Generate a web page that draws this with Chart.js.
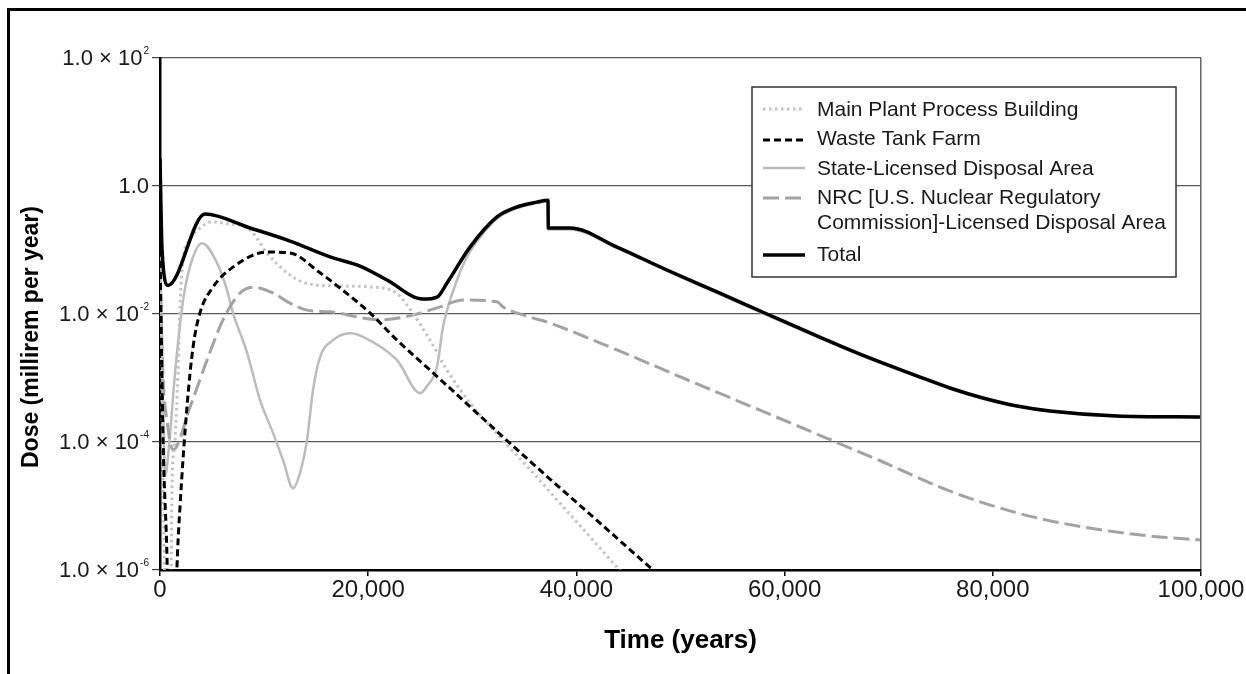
<!DOCTYPE html>
<html>
<head>
<meta charset="utf-8">
<script src="https://cdn.jsdelivr.net/npm/chart.js@4.4.1/dist/chart.umd.min.js"></script>
<style>
html,body{margin:0;padding:0;background:#fff;}
#wrap{position:relative;width:1246px;height:674px;}
</style>
</head>
<body>
<div id="wrap"><canvas id="c" width="1246" height="674"></canvas></div>
<script>
// ---------- DATA ----------
const seriesNames = [
  'Main Plant Process Building',
  'Waste Tank Farm',
  'State-Licensed Disposal Area',
  'NRC [U.S. Nuclear Regulatory Commission]-Licensed Disposal Area',
  'Total'
];
const legendLines = [
  ['Main Plant Process Building'],
  ['Waste Tank Farm'],
  ['State-Licensed Disposal Area'],
  ['NRC [U.S. Nuclear Regulatory', 'Commission]-Licensed Disposal Area'],
  ['Total']
];

// Time (years) and dose (millirem per year)
const mainPlantT = [0, 250, 600, 1000, 1150, 1440, 1730, 1920, 2210, 2880, 3840, 5000, 6050, 8650, 10280, 12200, 14120, 17290, 20170, 22770, 24000, 25940, 27570, 29780, 32660, 35830, 39100, 42270, 43900, 45630];
const mainPlantV = [0.1, 1e-4, 1e-7, 1e-7, 1.8e-5, 1.1e-4, 1.2e-3, 0.013, 0.07, 0.145, 0.22, 0.274, 0.264, 0.205, 0.09, 0.044, 0.030, 0.0274, 0.0265, 0.021, 0.012, 3.9e-3, 1.33e-3, 4.07e-4, 1.2e-4, 3.3e-5, 8.3e-6, 2.2e-6, 1.1e-6, 5.4e-7];

const wasteTankT = [0, 300, 700, 900, 1300, 1630, 1920, 2590, 3170, 3840, 5090, 7010, 10280, 12490, 15370, 17290, 20170, 22770, 25940, 29110, 32950, 37460, 42270, 47070, 48030];
const wasteTankV = [0.1, 1e-4, 1e-6, 1e-8, 1e-8, 1.1e-6, 9.6e-6, 3.5e-4, 3.0e-3, 0.0104, 0.0263, 0.054, 0.093, 0.090, 0.044, 0.0255, 0.0104, 3.9e-3, 1.33e-3, 4.5e-4, 1.2e-4, 2.64e-5, 5.4e-6, 1.1e-6, 8.1e-7];

const stateT = [0, 250, 500, 900, 1500, 2300, 3200, 4035, 5480, 6440, 7010, 8360, 9610, 10850, 11820, 12780, 13450, 14120, 14700, 15370, 16620, 18250, 19500, 22770, 24980, 25650, 26610, 27190, 28530, 29490, 30500, 32370, 34290, 36210, 37270, 37300, 39390, 43900, 48700, 53510, 58310, 63110, 67920, 72720, 75890, 79060, 82330, 85500, 91930, 99900];
const stateV = [0.08, 1e-3, 3e-5, 1e-4, 1.5e-3, 0.02, 0.08, 0.128, 0.063, 0.0237, 0.0104, 2.5e-3, 4.5e-4, 1.4e-4, 5.2e-5, 1.9e-5, 3.3e-5, 1.07e-4, 6.5e-4, 2.1e-3, 3.9e-3, 5.0e-3, 4.4e-3, 1.9e-3, 5.8e-4, 7.5e-4, 1.5e-3, 6.3e-3, 0.034, 0.078, 0.14, 0.31, 0.45, 0.54, 0.58, 0.21, 0.21, 0.107, 0.047, 0.0212, 0.0096, 0.0044, 2.07e-3, 1.05e-3, 6.8e-4, 4.75e-4, 3.57e-4, 2.99e-4, 2.5e-4, 2.42e-4];

const nrcT = [0, 300, 700, 1250, 2880, 4515, 6050, 7690, 8930, 10850, 12490, 14120, 16330, 21130, 24300, 26900, 29110, 32370, 32950, 35540, 37460, 43900, 50240, 56680, 63110, 69450, 75890, 82330, 88670, 95100, 99900];
const nrcV = [0.05, 1e-3, 2e-4, 7.5e-5, 3.5e-4, 1.9e-3, 8.1e-3, 0.0213, 0.0263, 0.0213, 0.0148, 0.0115, 0.0108, 8.1e-3, 9.6e-3, 0.0129, 0.0165, 0.0155, 0.0129, 9.0e-3, 7.2e-3, 2.74e-3, 1.0e-3, 3.65e-4, 1.33e-4, 4.87e-5, 1.71e-5, 7.8e-6, 4.7e-6, 3.4e-6, 2.95e-6];

const totalT = [0, 200, 770, 4320, 8645, 12490, 16330, 19210, 21800, 25260, 26610, 27570, 29780, 32370, 34290, 36210, 37270, 37300, 39390, 43900, 48700, 53510, 58310, 63110, 67920, 72720, 75890, 79060, 82330, 85500, 91930, 99900];
const totalV = [2.7, 0.1, 0.028, 0.365, 0.221, 0.138, 0.078, 0.056, 0.034, 0.0171, 0.0184, 0.0305, 0.111, 0.328, 0.47, 0.56, 0.6, 0.22, 0.22, 0.111, 0.0487, 0.0221, 0.01, 4.55e-3, 2.13e-3, 1.08e-3, 6.98e-4, 4.87e-4, 3.65e-4, 3.05e-4, 2.55e-4, 2.46e-4];

const xTickLabels = ['0', '20,000', '40,000', '60,000', '80,000', '100,000'];
const yTickValues = [1e-6, 1e-4, 1e-2, 1, 1e2];
const yTickBase = ['1.0 × 10', '1.0 × 10', '1.0 × 10', '1.0', '1.0 × 10'];
const yTickExp = ['-6', '-4', '-2', '', '2'];
const xTitle = 'Time (years)';
const yTitle = 'Dose (millirem per year)';

// ---------- helpers ----------
const pts = (t, v) => t.map((x, i) => ({x: x, y: v[i]}));
const FONT = '"Liberation Sans", Arial, sans-serif';

const styles = [
  {borderColor: '#c2c2c2', borderWidth: 3, borderDash: [2.5, 3.5], order: 2},
  {borderColor: '#000000', borderWidth: 3, borderDash: [7, 4], order: 1},
  {borderColor: '#bcbcbc', borderWidth: 2.5, borderDash: [], order: 4},
  {borderColor: '#a3a3a3', borderWidth: 3, borderDash: [16, 6], order: 3},
  {borderColor: '#000000', borderWidth: 3.5, borderDash: [], order: 0}
];
const seriesData = [
  pts(mainPlantT, mainPlantV),
  pts(wasteTankT, wasteTankV),
  pts(stateT, stateV),
  pts(nrcT, nrcV),
  pts(totalT, totalV)
];

const datasets = seriesNames.map((name, i) => Object.assign({
  label: name,
  data: seriesData[i],
  pointRadius: 0,
  fill: false,
  cubicInterpolationMode: 'monotone',
  borderCapStyle: 'butt',
  borderJoinStyle: 'round'
}, styles[i]));

const deco = {
  id: 'deco',
  beforeDraw(chart) {
    const ctx = chart.ctx;
    ctx.save();
    ctx.fillStyle = '#fff';
    ctx.fillRect(0, 0, chart.width, chart.height);
    ctx.fillStyle = '#000';
    ctx.fillRect(7, 8, 3, chart.height - 8);
    ctx.fillRect(7, 8, chart.width - 7, 3);
    ctx.restore();
  },
  afterDraw(chart) {
    const ctx = chart.ctx;
    const ys = chart.scales.y;
    ctx.save();
    // y tick labels with superscript exponents
    ctx.fillStyle = '#1a1a1a';
    ctx.textBaseline = 'middle';
    yTickValues.forEach((v, i) => {
      const py = ys.getPixelForValue(v);
      const xr = 149;
      const exp = yTickExp[i];
      ctx.font = '10px ' + FONT;
      const ew = exp ? ctx.measureText(exp).width + 1 : 0;
      if (exp) {
        ctx.textAlign = 'left';
        ctx.fillText(exp, xr - ew + 1, py - 7);
      }
      ctx.font = '22px ' + FONT;
      ctx.textAlign = 'right';
      ctx.fillText(yTickBase[i], xr - ew, py + 1);
    });
    // y axis title
    ctx.save();
    ctx.translate(32, 337);
    ctx.rotate(-Math.PI / 2);
    ctx.font = 'bold 23px ' + FONT;
    ctx.textAlign = 'center';
    ctx.textBaseline = 'middle';
    ctx.fillStyle = '#000';
    ctx.fillText(yTitle, 0, 0);
    ctx.restore();

    // legend
    const bx = 752, by = 87, bw = 424, bh = 190;
    ctx.fillStyle = '#fff';
    ctx.fillRect(bx, by, bw, bh);
    ctx.strokeStyle = '#333';
    ctx.lineWidth = 1.5;
    ctx.strokeRect(bx, by, bw, bh);
    const rowY = [[110], [139], [169], [198, 223], [255]];
    const sampleY = [109, 140, 168, 198, 255];
    chart.data.datasets.forEach((ds, i) => {
      ctx.save();
      ctx.strokeStyle = ds.borderColor;
      ctx.lineWidth = ds.borderWidth;
      ctx.setLineDash(ds.borderDash || []);
      ctx.beginPath();
      ctx.moveTo(763, sampleY[i]);
      ctx.lineTo(805, sampleY[i]);
      ctx.stroke();
      ctx.restore();
      ctx.fillStyle = '#1a1a1a';
      ctx.font = '21px ' + FONT;
      ctx.textAlign = 'left';
      ctx.textBaseline = 'middle';
      legendLines[i].forEach((line, j) => ctx.fillText(line, 817, rowY[i][j]));
    });
    ctx.restore();
  }
};

new Chart(document.getElementById('c'), {
  type: 'line',
  data: {datasets: datasets},
  plugins: [deco],
  options: {
    responsive: false,
    animation: false,
    layout: {padding: {top: 58, right: 45, left: 0, bottom: 0}},
    plugins: {legend: {display: false}, tooltip: {enabled: false}},
    scales: {
      x: {
        type: 'linear',
        min: 0,
        max: 100000,
        afterFit: s => { s.height = 104; },
        afterBuildTicks: s => { s.ticks = xTickLabels.map((_, i) => ({value: i * 20000})); },
        ticks: {
          callback: (v, i) => xTickLabels[i],
          font: {family: FONT, size: 24},
          color: '#1a1a1a',
          padding: 0,
          maxRotation: 0,
          autoSkip: false
        },
        grid: {
          drawOnChartArea: true,
          color: c => (c.tick && c.tick.value === 100000) ? '#666' : 'rgba(0,0,0,0)',
          tickColor: '#000',
          tickLength: 6,
          lineWidth: 1.5
        },
        border: {color: '#000', width: 2.5},
        title: {
          display: true,
          text: xTitle,
          font: {family: FONT, size: 26, weight: 'bold'},
          color: '#000',
          padding: {top: 0, bottom: 18}
        }
      },
      y: {
        type: 'logarithmic',
        min: 1e-6,
        max: 1e2,
        afterFit: s => { s.width = 160; },
        afterBuildTicks: s => { s.ticks = yTickValues.map(v => ({value: v})); },
        ticks: {callback: () => '', autoSkip: false},
        grid: {
          color: '#5a5a5a',
          lineWidth: 1.2,
          tickColor: '#444',
          tickLength: 8
        },
        border: {color: '#000', width: 2.5}
      }
    }
  }
});
</script>
</body>
</html>
